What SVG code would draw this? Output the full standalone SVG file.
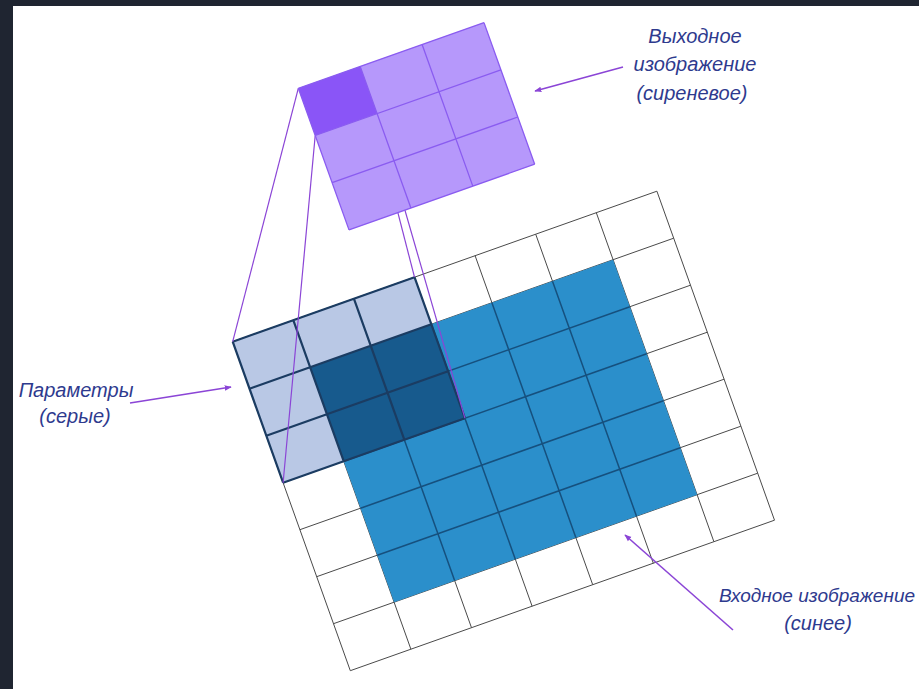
<svg xmlns="http://www.w3.org/2000/svg" width="919" height="689" viewBox="0 0 919 689">
<style>
.lbl{font-family:"Liberation Sans","Open Sans",sans-serif;font-style:italic;font-size:20px;fill:#2e3a8e;text-anchor:middle}
.ns{vector-effect:non-scaling-stroke;fill:none}
.gl{stroke:#4a4a4a;stroke-width:1}
.bl{stroke:#16507e;stroke-width:1.5}
.kl{stroke:#1b3c62;stroke-width:2.2}
.ol{stroke:#8a5cf0;stroke-width:1.3}
.conn{stroke:#8b45d6;stroke-width:1.2;fill:none}
.arr{stroke:#8b45d6;stroke-width:1.6;fill:none;marker-end:url(#ah)}
</style>
<defs>
<marker id="ah" viewBox="0 0 10 10" refX="9" refY="5" markerWidth="7" markerHeight="7" orient="auto" markerUnits="userSpaceOnUse">
<path d="M0,1 L10,5 L0,9 z" fill="#8b45d6"/>
</marker>
</defs>
<rect x="0" y="0" width="919" height="689" fill="#ffffff"/>
<rect x="0" y="0" width="919" height="6" fill="#1f2531"/>
<rect x="0" y="0" width="13" height="689" fill="#1f2531"/>

<g id="input-image" transform="matrix(60.6,-21.5,16.8,47.0,232.7,341.7)">
<rect x="0" y="0" width="7" height="7" fill="#ffffff"/>
<path class="ns gl" d="M0 0H7M0 1H7M0 2H7M0 3H7M0 4H7M0 5H7M0 6H7M0 7H7M0 0V7M1 0V7M2 0V7M3 0V7M4 0V7M5 0V7M6 0V7M7 0V7"/>
<rect x="1" y="1" width="5" height="5" fill="#2b8fcb"/>
<path class="ns bl" d="M1 2H6M1 3H6M1 4H6M1 5H6M2 1V6M3 1V6M4 1V6M5 1V6"/>
</g>

<g id="kernel" transform="matrix(60.6,-21.5,16.8,47.0,232.7,341.7)">
<rect x="0" y="0" width="3" height="3" fill="#b9c8e5"/>
<rect x="1" y="1" width="2" height="2" fill="#175a8d"/>
<path class="ns kl" d="M0 0H3M0 1H3M0 2H3M0 3H3M0 0V3M1 0V3M2 0V3M3 0V3"/>
</g>

<g id="connectors">
<path class="conn" d="M298.3 88.3L232.7 341.7"/>
<path class="conn" d="M315.2 135.5L283.1 482.7"/>
<path class="conn" d="M360.2 66.4L414.5 277.2"/>
<path class="conn" d="M377.1 113.6L464.9 418.2"/>
<path class="arr" d="M623 67L535 91"/>
<path class="arr" d="M130 403L231 387"/>
<path class="arr" d="M733 630L625 535"/>
</g>

<g id="output-image" transform="matrix(61.9,-21.9,16.9,47.2,298.3,88.3)">
<rect x="0" y="0" width="3" height="3" fill="#b698fb"/>
<rect x="0" y="0" width="1" height="1" fill="#8a55f7"/>
<path class="ns ol" d="M0 0H3M0 1H3M0 2H3M0 3H3M0 0V3M1 0V3M2 0V3M3 0V3"/>
</g>

<g id="label-output">
<text class="lbl" x="695" y="43">Выходное</text>
<text class="lbl" x="695" y="71">изображение</text>
<text class="lbl" x="692" y="100">(сиреневое)</text>
</g>
<g id="label-params">
<text class="lbl" x="76" y="397">Параметры</text>
<text class="lbl" x="75" y="423">(серые)</text>
</g>
<g id="label-input">
<text class="lbl" x="817" y="602" style="font-size:19px">Входное изображение</text>
<text class="lbl" x="818" y="630">(синее)</text>
</g>
</svg>
